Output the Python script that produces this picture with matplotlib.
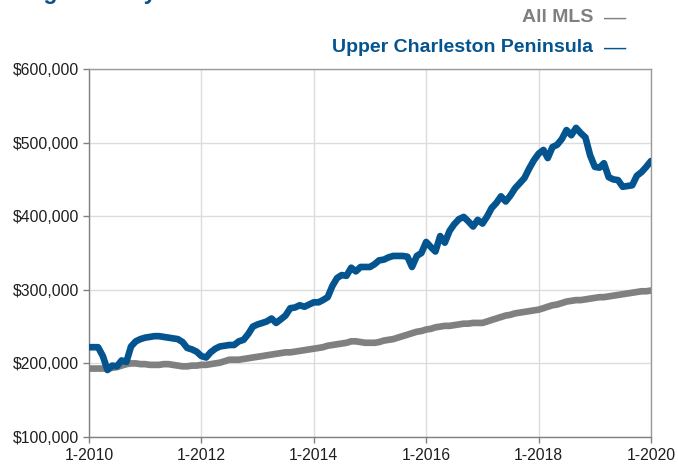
import numpy as np
import pandas as pd
import matplotlib
matplotlib.use('Agg')
import matplotlib.pyplot as plt
from matplotlib.ticker import FuncFormatter

# ==========================================
# DATA (monthly median price, in $1,000s, 1-2010 .. 1-2020)
# ==========================================
start_month = '2010-01'

upper_peninsula = [
    222, 222, 222, 210, 191, 197, 196, 204, 202, 223, 230, 233,
    235, 236, 237, 237, 236, 235, 234, 233, 229, 221, 219, 216,
    210, 208, 215, 220, 223, 224, 225, 225, 230, 232, 240, 250,
    253, 255, 257, 261, 255, 260, 265, 275, 276, 279, 277, 280,
    283, 283, 286, 290, 305, 316, 320, 319, 330, 325, 331, 331,
    331, 335, 340, 341, 344, 346, 346, 346, 345, 331, 346, 350,
    365, 358, 352, 373, 364, 380, 389, 396, 399, 393, 386, 395,
    390, 400, 411, 418, 427, 420, 428, 438, 445, 452, 465, 476,
    485, 490, 479, 494, 497, 505, 517, 510, 520, 513, 507, 483,
    467, 466, 472, 453, 450, 449, 440, 441, 442, 455, 460, 467,
    475,
]

all_mls = [
    193, 193, 193, 193, 193, 194, 195, 197, 199, 200, 200, 199,
    199, 198, 198, 198, 199, 199, 198, 197, 196, 196, 197, 197,
    198, 198, 199, 200, 201, 203, 205, 205, 205, 206, 207, 208,
    209, 210, 211, 212, 213, 214, 215, 215, 216, 217, 218, 219,
    220, 221, 222, 224, 225, 226, 227, 228, 230, 230, 229, 228,
    228, 228, 229, 231, 232, 233, 235, 237, 239, 241, 243, 244,
    246, 247, 249, 250, 251, 251, 252, 253, 254, 254, 255, 255,
    255, 257, 259, 261, 263, 265, 266, 268, 269, 270, 271, 272,
    273, 275, 277, 279, 280, 282, 284, 285, 286, 286, 287, 288,
    289, 290, 290, 291, 292, 293, 294, 295, 296, 297, 298, 298,
    299,
]

x_ticks = ['2010-01', '2012-01', '2014-01', '2016-01', '2018-01', '2020-01']
x_labels = ['1-2010', '1-2012', '1-2014', '1-2016', '1-2018', '1-2020']
y_ticks = [100000, 200000, 300000, 400000, 500000, 600000]

BLUE = '#04558f'
GRAY = '#808080'
TITLE_BLUE = '#0d4f86'

dates = pd.date_range(start_month, periods=len(all_mls), freq='MS')
df = pd.DataFrame({'all': np.array(all_mls) * 1000,
                   'upper': np.array(upper_peninsula) * 1000}, index=dates)

plt.rcParams['font.family'] = ['Liberation Sans', 'DejaVu Sans']
NARROW = ['Liberation Sans Narrow', 'Liberation Sans']

# ==========================================
# PLOT
# ==========================================
fig = plt.figure(figsize=(6.78, 4.66), dpi=100)
ax = fig.add_axes([89 / 678, 1 - 437 / 466, (651 - 89) / 678, (437 - 69) / 466])

ax.plot(df.index, df['all'], color=GRAY, lw=4.8, solid_capstyle='round', zorder=3)
ax.plot(df.index, df['upper'], color=BLUE, lw=4.8, solid_capstyle='round', zorder=4)

ax.set_xlim(pd.Timestamp(x_ticks[0]), pd.Timestamp(x_ticks[-1]))
ax.set_ylim(y_ticks[0], y_ticks[-1])
ax.set_xticks([pd.Timestamp(t) for t in x_ticks])
ax.set_xticklabels(x_labels)
ax.set_yticks(y_ticks)
ax.yaxis.set_major_formatter(FuncFormatter(lambda v, p: f'${v:,.0f}'))

ax.grid(True, color='#dcdcdc', lw=1, zorder=0)
ax.set_axisbelow(True)
for s in ax.spines.values():
    s.set_color('#9a9a9a')
    s.set_linewidth(1)
ax.spines['left'].set_color('#808080')
ax.spines['bottom'].set_color('#808080')
ax.tick_params(axis='both', length=4, width=1, color='#808080',
               labelsize=11.3, labelcolor='#1e1e1e')
ax.tick_params(axis='x', pad=4)
ax.tick_params(axis='y', pad=3)

# Legend text, right aligned, with a short dash after each label
fig.text(593 / 678, 1 - 17 / 466, 'All MLS', color=GRAY, fontsize=14,
         fontweight='bold', ha='right', va='center', family=NARROW)
fig.text(593 / 678, 1 - 47 / 466, 'Upper Charleston Peninsula', color=BLUE,
         fontsize=14, fontweight='bold', ha='right', va='center', family=NARROW)
fig.text(604 / 678, 1 - 18 / 466, '\u2014', color=GRAY, fontsize=16, ha='left', va='center')
fig.text(604 / 678, 1 - 48 / 466, '\u2014', color=BLUE, fontsize=16, ha='left', va='center')

# Title, cropped at the very top edge as in the source image
fig.text(0.012, 1 + 1 / 466, 'Single-Family Detached', color=TITLE_BLUE, fontsize=16.5,
         fontweight='bold', ha='left', va='baseline', family=NARROW)

fig.savefig('out.png', dpi=100)
